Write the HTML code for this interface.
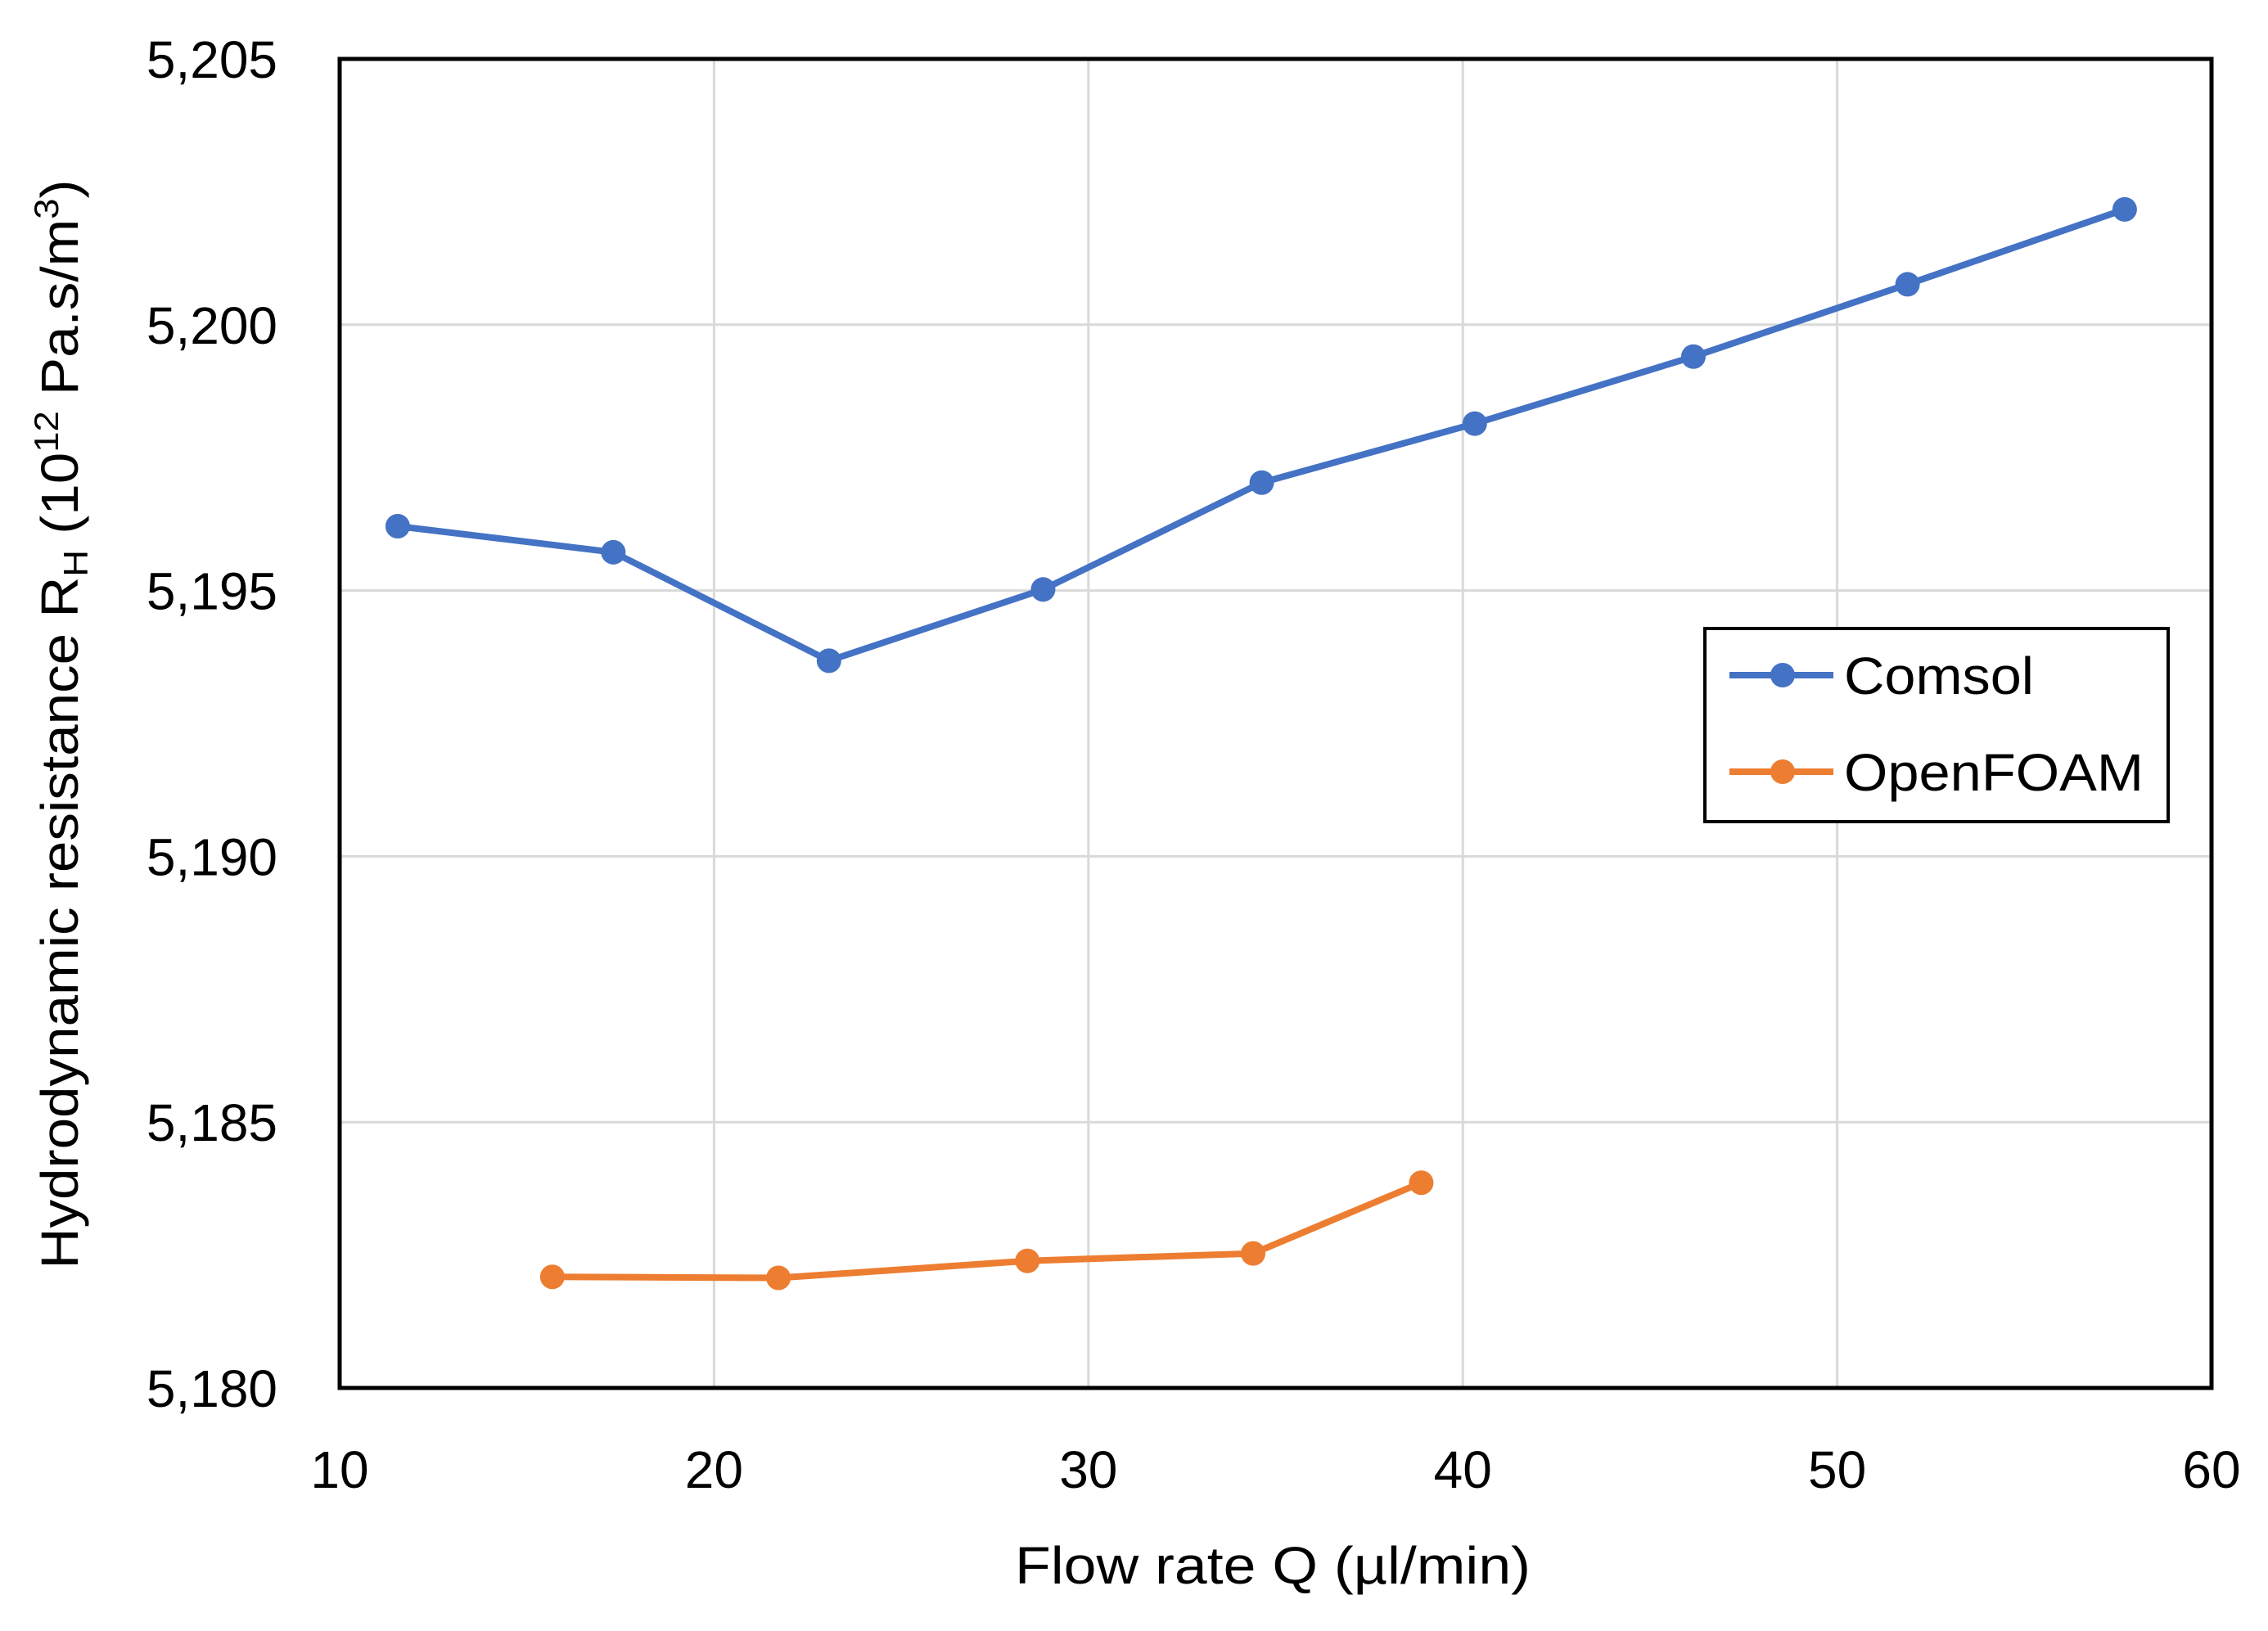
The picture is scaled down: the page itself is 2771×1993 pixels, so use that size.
<!DOCTYPE html>
<html><head><meta charset="utf-8"><style>
html,body{margin:0;padding:0;background:#fff;}
svg{display:block;}
text{font-family:"Liberation Sans","DejaVu Sans",sans-serif;fill:#000;}
</style></head><body>
<svg id="chart" width="2771" height="1993" viewBox="0 0 2771 1993">
<g id="grid"></g>
<g id="xticks"></g>
<g id="yticks"></g>
<g id="series"></g>
<rect x="415" y="72" width="2287" height="1624" fill="none" stroke="#000" stroke-width="5"/>
<text x="1555" y="1935" font-size="64" text-anchor="middle" textLength="630" lengthAdjust="spacingAndGlyphs">Flow rate Q (µl/min)</text>
<text transform="translate(95,885) rotate(-90)" font-size="64" text-anchor="middle" textLength="1331" lengthAdjust="spacingAndGlyphs">Hydrodynamic resistance R<tspan font-size="42" dy="12">H</tspan><tspan dy="-12"> (10</tspan><tspan font-size="42" dy="-24">12</tspan><tspan dy="24"> Pa.s/m</tspan><tspan font-size="42" dy="-24">3</tspan><tspan dy="24">)</tspan></text>
<g>
<rect x="2083" y="768" width="566" height="236" fill="#fff" stroke="#000" stroke-width="4"/>
<g>
<line x1="2113" y1="825" x2="2240" y2="825" stroke="#4472C4" stroke-width="8"/>
<circle cx="2178" cy="825" r="15" fill="#4472C4"/>
<text x="2253" y="848" font-size="64" textLength="232" lengthAdjust="spacingAndGlyphs">Comsol</text>
</g>
<g>
<line x1="2113" y1="943" x2="2240" y2="943" stroke="#ED7D31" stroke-width="8"/>
<circle cx="2178" cy="943" r="15" fill="#ED7D31"/>
<text x="2253" y="966" font-size="64" textLength="366" lengthAdjust="spacingAndGlyphs">OpenFOAM</text>
</g>
</g>
</svg>
<script>
const xTicks = [10, 20, 30, 40, 50, 60];
const yTicks = [5180, 5185, 5190, 5195, 5200, 5205];
const yTickLabels = ["5,180", "5,185", "5,190", "5,195", "5,200", "5,205"];
const comsolX = [11.55, 17.31, 23.07, 28.79, 34.63, 40.32, 46.16, 51.88, 57.68];
const comsolY = [5196.21, 5195.72, 5193.68, 5195.02, 5197.03, 5198.14, 5199.40, 5200.76, 5202.17];
const foamX = [15.68, 21.72, 28.37, 34.40, 38.89];
const foamY = [5182.09, 5182.07, 5182.39, 5182.53, 5183.86];

const NS = "http://www.w3.org/2000/svg";
const L = 415, R = 2702, T = 72, B = 1696;
const xMin = 10, xMax = 60, yMin = 5180, yMax = 5205;
function sx(v){ return L + (v - xMin) / (xMax - xMin) * (R - L); }
function sy(v){ return B - (v - yMin) / (yMax - yMin) * (B - T); }
function mk(tag, attrs, parent){
  const e = document.createElementNS(NS, tag);
  for (const k in attrs) e.setAttribute(k, attrs[k]);
  parent.appendChild(e);
  return e;
}
const grid = document.getElementById("grid");
const xg = document.getElementById("xticks");
const yg = document.getElementById("yticks");
const sg = document.getElementById("series");

xTicks.forEach(v => {
  const gl = mk("line", {x1: sx(v), x2: sx(v), y1: T, y2: B, stroke: "#d9d9d9", "stroke-width": 3}, grid);
  
  
  const t = mk("text", {x: sx(v), y: 1818, "font-size": 64, "text-anchor": "middle"}, xg);
  t.textContent = String(v);
  
  
});
yTicks.forEach((v, i) => {
  const gl = mk("line", {x1: L, x2: R, y1: sy(v), y2: sy(v), stroke: "#d9d9d9", "stroke-width": 3}, grid);
  
  
  const t = mk("text", {x: 339, y: sy(v) + 23, "font-size": 64, "text-anchor": "end"}, yg);
  t.textContent = yTickLabels[i];
  
  
});

function drawSeries(xs, ys, color, name){
  const g = mk("g", {}, sg);
  
  
  const pts = xs.map((x, i) => sx(x) + "," + sy(ys[i])).join(" ");
  const pl = mk("polyline", {points: pts, fill: "none", stroke: color, "stroke-width": 8, "stroke-linejoin": "round"}, g);
  
  
  xs.forEach((x, i) => {
    const c = mk("circle", {cx: sx(x), cy: sy(ys[i]), r: 15, fill: color}, g);
    
    
  });
}
drawSeries(comsolX, comsolY, "#4472C4", "comsol");
drawSeries(foamX, foamY, "#ED7D31", "openfoam");
</script>
</body></html>
